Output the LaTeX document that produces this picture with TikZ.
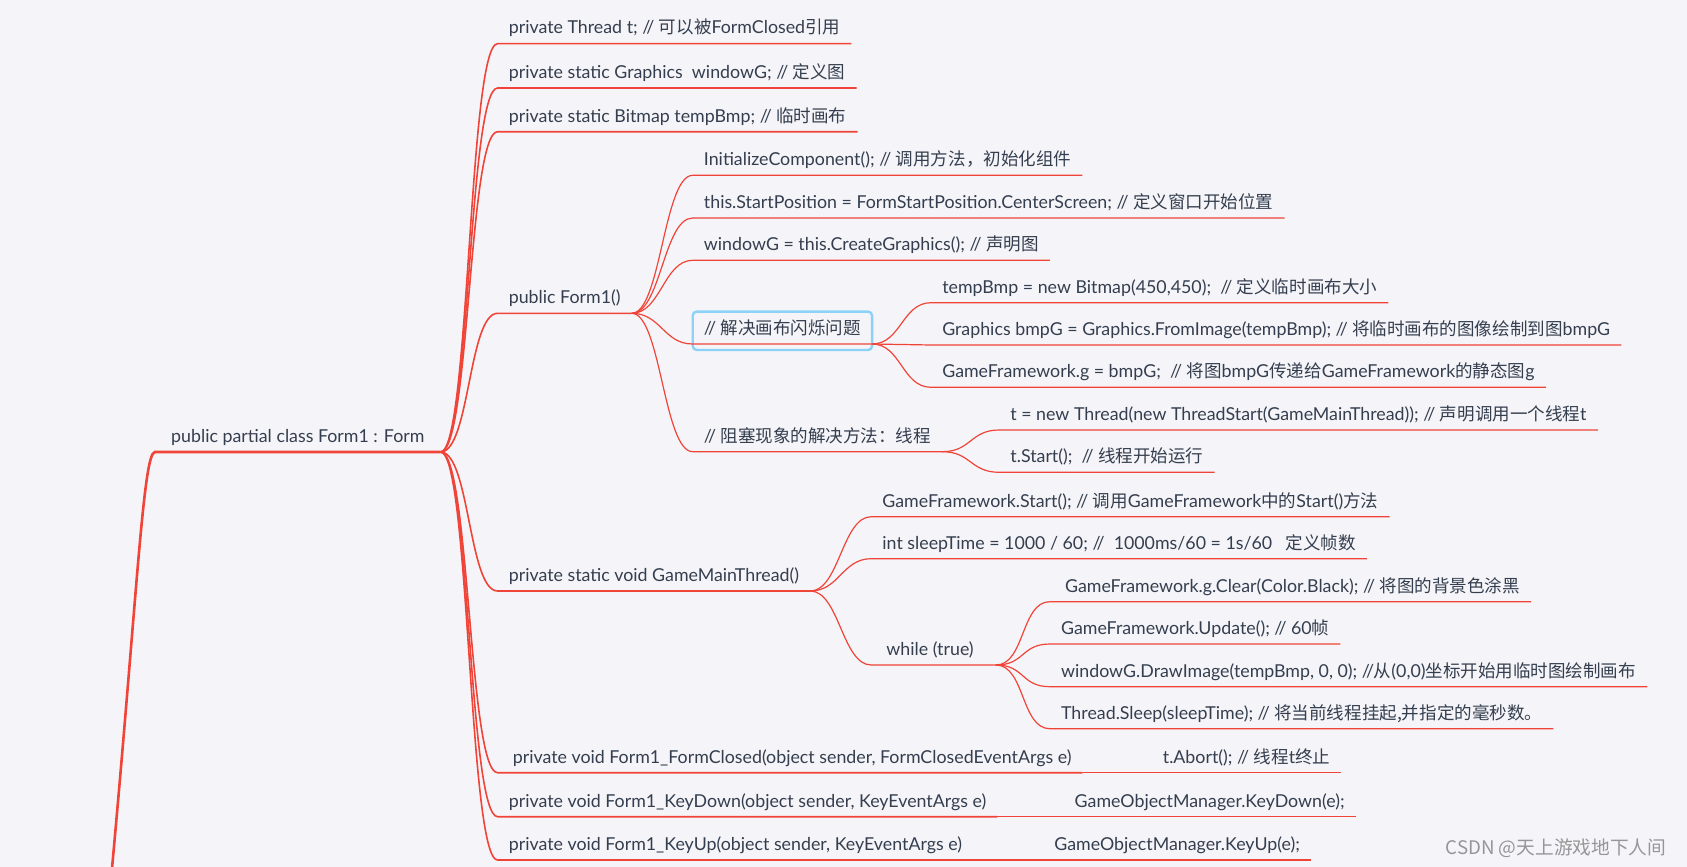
\documentclass[tikz,border=0pt]{standalone}
\usepackage{fontspec}
\setmainfont{Lato}
\newfontfamily\cjk{Noto Sans CJK SC}[Scale=0.985]
\newcommand\zh[1]{{\cjk #1}}
\usepackage{tikz}
\usetikzlibrary{positioning,calc}
\definecolor{bgpaper}{RGB}{245,245,249}
\definecolor{ink}{RGB}{52,62,78}
\definecolor{branch}{RGB}{240,68,56}
\definecolor{selblue}{RGB}{140,210,246}
\definecolor{wmgray}{RGB}{150,150,150}

\begin{document}
\begin{tikzpicture}[
  x=1pt, y=-1pt,
  font=\fontsize{17.8}{20}\selectfont,
  item/.style={anchor=south west, text=ink, inner xsep=11pt, inner ysep=5.5pt, text height=13pt, text depth=4pt},
  rootitem/.style={item, inner xsep=16pt},
  selbox/.style={draw=selblue, line width=2.4pt, rounded corners=4pt},
  trunk/.style={draw=branch, line width=2.6pt},
  lvlone/.style={draw=branch, line width=1.6pt},
  lvltwo/.style={draw=branch, line width=1.2pt},
  link/.style={to path={.. controls +(29pt,0) and +(-29pt,0) .. (\tikztotarget)}}
]
\fill[bgpaper] (0,0) rectangle (1687,867);
\clip (0,0) rectangle (1687,867);

% root and first level
\node[rootitem] (root) at (155,452) {public partial class Form1 : Form};
\coordinate (colA) at ([xshift=57pt]root.south east);
\node[item] (thread) at (colA |- 0,43.7) {private Thread t; // \zh{可以被}FormClosed\zh{引用}};
\node[item] (gfx) at (colA |- 0,88) {private static Graphics\ \ windowG; // \zh{定义图}};
\node[item] (bmp) at (colA |- 0,131.7) {private static Bitmap tempBmp; // \zh{临时画布}};
\node[item] (ctor) at (colA |- 0,313.3) {public Form1()};
\node[item] (mainthr) at (colA |- 0,591) {private static void GameMainThread()};
\node[item] (closed) at (colA |- 0,772.7) {\hspace{4pt}private void Form1\_FormClosed(object sender, FormClosedEventArgs e)};
\node[item] (keydown) at (colA |- 0,816.7) {private void Form1\_KeyDown(object sender, KeyEventArgs e)};
\node[item] (keyup) at (colA |- 0,860) {private void Form1\_KeyUp(object sender, KeyEventArgs e)};

% public Form1()
\coordinate (colB) at ([xshift=61pt]ctor.south east);
\node[item] (init) at (colB |- 0,175.3) {InitializeComponent(); // \zh{调用方法，初始化组件}};
\node[item] (startpos) at (colB |- 0,218) {this.StartPosition = FormStartPosition.CenterScreen; // \zh{定义窗口开始位置}};
\node[item] (creategfx) at (colB |- 0,260.3) {windowG = this.CreateGraphics(); // \zh{声明图}};
\node[item] (flicker) at (colB |- 0,344) {// \zh{解决画布闪烁问题}};
\node[item] (block) at (colB |- 0,451.7) {// \zh{阻塞现象的解决方法：线程}};
\draw[selbox] ([yshift=-6pt]flicker.south west) rectangle ([yshift=4pt]flicker.north east);

\coordinate (colC) at ([xshift=59pt]flicker.south east);
\node[item] (newbmp) at (colC |- 0,302.7) {tempBmp = new Bitmap(450,450);\ \ // \zh{定义临时画布大小}};
\node[item] (bmpg) at (colC |- 0,345) {Graphics bmpG = Graphics.FromImage(tempBmp); // \zh{将临时画布的图像绘制到图}bmpG};
\node[item] (staticg) at (colC |- 0,387.3) {GameFramework.g = bmpG;\ \ // \zh{将图}bmpG\zh{传递给}GameFramework\zh{的静态图}g};

\coordinate (colD) at ([xshift=57pt]block.south east);
\node[item] (newthr) at (colD |- 0,430) {t = new Thread(new ThreadStart(GameMainThread)); // \zh{声明调用一个线程}t};
\node[item] (tstart) at (colD |- 0,472.3) {t.Start();\ \ // \zh{线程开始运行}};

% GameMainThread()
\coordinate (colE) at ([xshift=61pt]mainthr.south east);
\node[item] (gfstart) at (colE |- 0,516.7) {GameFramework.Start(); // \zh{调用}GameFramework\zh{中的}Start()\zh{方法}};
\node[item] (sleepdef) at (colE |- 0,558.7) {int sleepTime = 1000 / 60; //\ \ 1000ms/60 = 1s/60\ \ \ \zh{定义帧数}};
\node[item] (loop) at (colE |- 0,665) {\hspace{4pt}while (true)\kern11pt};

\coordinate (colF) at ([xshift=54pt]loop.south east);
\node[item] (clear) at (colF |- 0,601.7) {\hspace{4pt}GameFramework.g.Clear(Color.Black); // \zh{将图的背景色涂黑}};
\node[item] (update) at (colF |- 0,644) {GameFramework.Update(); // 60\zh{帧}};
\node[item] (drawimg) at (colF |- 0,686.7) {windowG.DrawImage(tempBmp, 0, 0); //\zh{从}(0,0)\zh{坐标开始用临时图绘制画布}};
\node[item] (sleepcall) at (colF |- 0,728.7) {Thread.Sleep(sleepTime); // \zh{将当前线程挂起,并指定的毫秒数。}};

% handlers
\node[item, right=69pt of closed.south east, anchor=south west] (abort) {t.Abort(); // \zh{线程}t\zh{终止}};
\node[item, right=66pt of keydown.south east, anchor=south west] (kdown) {GameObjectManager.KeyDown(e);};
\node[item, right=70pt of keyup.south east, anchor=south west] (kup) {GameObjectManager.KeyUp(e);};

\node[text=wmgray, font=\cjk\fontsize{19}{22}\selectfont] (wm) at (1556,848) {CSDN @天上游戏地下人间};

% connectors
\coordinate (up) at (110,890);
\draw[trunk] (up) .. controls +(27,-290) and +(-12,0) .. (root.south west) -- (root.south east);
\draw[lvlone] (root.south east) to[link] (thread.south west) -- (thread.south east);
\draw[lvlone] (root.south east) to[link] (gfx.south west) -- (gfx.south east);
\draw[lvlone] (root.south east) to[link] (bmp.south west) -- (bmp.south east);
\draw[lvlone] (root.south east) to[link] (ctor.south west) -- (ctor.south east);
\draw[lvlone] (root.south east) to[link] (mainthr.south west) -- (mainthr.south east);
\draw[lvlone] (root.south east) to[link] (closed.south west) -- (closed.south east);
\draw[lvlone] (root.south east) to[link] (keydown.south west) -- (keydown.south east);
\draw[lvlone] (root.south east) to[link] (keyup.south west) -- (keyup.south east);

\draw[lvltwo] (ctor.south east) to[link] (init.south west) -- (init.south east);
\draw[lvltwo] (ctor.south east) to[link] (startpos.south west) -- (startpos.south east);
\draw[lvltwo] (ctor.south east) to[link] (creategfx.south west) -- (creategfx.south east);
\draw[lvltwo] (ctor.south east) to[link] (flicker.south west) -- (flicker.south east);
\draw[lvltwo] (ctor.south east) to[link] (block.south west) -- (block.south east);

\draw[lvltwo] (flicker.south east) to[link] (newbmp.south west) -- (newbmp.south east);
\draw[lvltwo] (flicker.south east) to[link] (bmpg.south west) -- (bmpg.south east);
\draw[lvltwo] (flicker.south east) to[link] (staticg.south west) -- (staticg.south east);
\draw[lvltwo] (block.south east) to[link] (newthr.south west) -- (newthr.south east);
\draw[lvltwo] (block.south east) to[link] (tstart.south west) -- (tstart.south east);

\draw[lvltwo] (mainthr.south east) to[link] (gfstart.south west) -- (gfstart.south east);
\draw[lvltwo] (mainthr.south east) to[link] (sleepdef.south west) -- (sleepdef.south east);
\draw[lvltwo] (mainthr.south east) to[link] (loop.south west) -- (loop.south east);
\draw[lvltwo] (loop.south east) to[link] (clear.south west) -- (clear.south east);
\draw[lvltwo] (loop.south east) to[link] (update.south west) -- (update.south east);
\draw[lvltwo] (loop.south east) to[link] (drawimg.south west) -- (drawimg.south east);
\draw[lvltwo] (loop.south east) to[link] (sleepcall.south west) -- (sleepcall.south east);

\draw[lvltwo] (closed.south east) -- (abort.south west) -- (abort.south east);
\draw[lvltwo] (keydown.south east) -- (kdown.south west) -- (kdown.south east);
\draw[lvltwo] (keyup.south east) -- (kup.south west) -- (kup.south east);
\end{tikzpicture}
\end{document}
